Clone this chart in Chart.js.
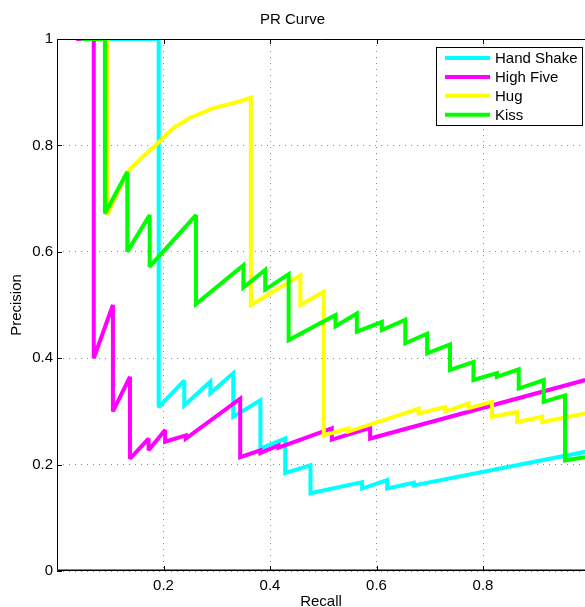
<!DOCTYPE html>
<html>
<head>
<meta charset="utf-8">
<title>PR Curve</title>
<script src="https://cdn.jsdelivr.net/npm/chart.js@4.4.1/dist/chart.umd.min.js"></script>
<style>
  html, body { margin: 0; padding: 0; background: #fff; }
  #wrap { width: 585px; height: 607px; }
</style>
</head>
<body>
<div id="wrap"><canvas id="pr"></canvas></div>
<script>
// tick labels
const recallTicks = [0.2, 0.4, 0.6, 0.8];
const precisionTicks = [0, 0.2, 0.4, 0.6, 0.8, 1];

// series names + colours
const seriesNames = ['Hand Shake', 'High Five', 'Hug', 'Kiss'];
const seriesColors = ['#00ffff', '#ff00ff', '#ffff00', '#00ff00'];

// Hand Shake
const handShakeRecall = [0.045, 0.191, 0.191, 0.239, 0.239, 0.288, 0.288, 0.331, 0.331, 0.382, 0.382, 0.4285, 0.4285, 0.476, 0.476, 0.573, 0.573, 0.620, 0.620, 0.670, 0.670, 0.992];
const handShakePrecision = [1, 1, 0.308, 0.358, 0.311, 0.356, 0.334, 0.372, 0.290, 0.321, 0.230, 0.249, 0.184, 0.199, 0.146, 0.167, 0.155, 0.171, 0.155, 0.166, 0.161, 0.224];

// High Five
const highFiveRecall = [0.036, 0.069, 0.069, 0.105, 0.105, 0.137, 0.137, 0.172, 0.172, 0.203, 0.203, 0.242, 0.242, 0.344, 0.344, 0.382, 0.382, 0.416, 0.416, 0.516, 0.516, 0.588, 0.588, 0.992];
const highFivePrecision = [1, 1, 0.40, 0.50, 0.30, 0.365, 0.211, 0.249, 0.227, 0.265, 0.243, 0.255, 0.249, 0.324, 0.214, 0.227, 0.222, 0.236, 0.232, 0.268, 0.247, 0.269, 0.249, 0.359];

// Hug
const hugRecall = [0.045, 0.094, 0.094, 0.132, 0.156, 0.191, 0.219, 0.250, 0.294, 0.344, 0.364, 0.364, 0.457, 0.457, 0.501, 0.501, 0.547, 0.547, 0.679, 0.679, 0.729, 0.729, 0.773, 0.773, 0.817, 0.817, 0.864, 0.864, 0.911, 0.911, 0.992];
const hugPrecision = [1, 1, 0.669, 0.750, 0.774, 0.806, 0.833, 0.852, 0.870, 0.883, 0.890, 0.500, 0.556, 0.500, 0.525, 0.255, 0.268, 0.262, 0.305, 0.296, 0.308, 0.300, 0.315, 0.306, 0.318, 0.290, 0.299, 0.280, 0.290, 0.280, 0.296];

// Kiss
const kissRecall = [0.045, 0.090, 0.090, 0.132, 0.132, 0.174, 0.174, 0.261, 0.261, 0.350, 0.350, 0.391, 0.391, 0.435, 0.435, 0.523, 0.523, 0.563, 0.563, 0.610, 0.610, 0.654, 0.654, 0.695, 0.695, 0.738, 0.738, 0.782, 0.782, 0.826, 0.826, 0.867, 0.867, 0.914, 0.914, 0.954, 0.954, 0.992];
const kissPrecision = [1, 1, 0.672, 0.750, 0.600, 0.669, 0.572, 0.669, 0.502, 0.575, 0.533, 0.566, 0.529, 0.558, 0.434, 0.481, 0.460, 0.484, 0.450, 0.468, 0.453, 0.472, 0.428, 0.446, 0.409, 0.426, 0.378, 0.393, 0.359, 0.372, 0.365, 0.379, 0.343, 0.359, 0.318, 0.330, 0.208, 0.214];

const recalls = [handShakeRecall, highFiveRecall, hugRecall, kissRecall];
const precisions = [handShakePrecision, highFivePrecision, hugPrecision, kissPrecision];

const FONT = '"Liberation Sans", Arial, Helvetica, sans-serif';

function toPoints(xs, ys) {
  return xs.map((x, i) => ({ x: x, y: ys[i] }));
}

const datasets = seriesNames.map((name, i) => ({
  label: name,
  data: toPoints(recalls[i], precisions[i]),
  borderColor: seriesColors[i],
  backgroundColor: seriesColors[i],
  borderWidth: 4,
  pointRadius: 0,
  tension: 0,
  fill: false,
  borderJoinStyle: 'miter',
  order: seriesNames.length - i  // later series on top, like matlab
}));

function fmt(v) {
  return String(+Number(v).toFixed(1));
}

// keep the sharp corners from growing long spikes
const joinLimit = {
  id: 'joinLimit',
  beforeDatasetsDraw(chart) { chart.ctx.miterLimit = 2.5; }
};

// box, inward ticks and the legend inside the axes
const axesDecor = {
  id: 'axesDecor',
  afterDraw(chart) {
    const ctx = chart.ctx;
    const a = chart.chartArea;
    const xs = chart.scales.x, ys = chart.scales.y;
    ctx.save();
    ctx.strokeStyle = '#000';
    ctx.lineWidth = 1;
    ctx.beginPath();
    ctx.rect(a.left + 0.5, a.top + 0.5, a.right - a.left, a.bottom - a.top - 1);
    ctx.stroke();
    ctx.beginPath();
    ctx.moveTo(a.left, a.bottom - 1); ctx.lineTo(a.right, a.bottom - 1);
    ctx.stroke();

    ctx.beginPath();
    recallTicks.forEach(v => {
      const px = Math.round(xs.getPixelForValue(v)) + 0.5;
      ctx.moveTo(px, a.bottom); ctx.lineTo(px, a.bottom - 5);
      ctx.moveTo(px, a.top); ctx.lineTo(px, a.top + 5);
    });
    precisionTicks.forEach(v => {
      const py = Math.round(ys.getPixelForValue(v)) + 0.5;
      ctx.moveTo(a.left, py); ctx.lineTo(a.left + 5, py);
    });
    ctx.stroke();

    // legend
    const lx = 436, ly = 47, lw = 146, lh = 78;
    ctx.fillStyle = '#fff';
    ctx.fillRect(lx, ly, lw, lh);
    ctx.strokeRect(lx + 0.5, ly + 0.5, lw, lh);
    ctx.font = '15px ' + FONT;
    ctx.textBaseline = 'middle';
    ctx.textAlign = 'left';
    chart.data.datasets.forEach((ds, i) => {
      const y = ly + 11 + i * 18.9;
      ctx.strokeStyle = ds.borderColor;
      ctx.lineWidth = 4;
      ctx.beginPath();
      ctx.moveTo(445, y); ctx.lineTo(490, y);
      ctx.stroke();
      ctx.fillStyle = '#000';
      ctx.fillText(ds.label, 495, y + 1);
    });
    ctx.restore();
  }
};

const gridOpts = { color: '#8c8c8c', lineWidth: 1, drawTicks: false };

new Chart(document.getElementById('pr'), {
  type: 'line',
  data: { datasets: datasets },
  options: {
    responsive: true,
    maintainAspectRatio: false,
    animation: false,
    devicePixelRatio: 1,
    layout: { padding: 0 },
    plugins: {
      legend: { display: false },
      tooltip: { enabled: false },
      title: {
        display: true,
        text: 'PR Curve',
        color: '#000',
        font: { family: FONT, size: 15, weight: 'normal' },
        padding: { top: 11, bottom: 10 }
      }
    },
    scales: {
      x: {
        type: 'linear',
        min: 0,
        max: 0.9915,
        afterFit: s => { s.height = 36; },
        afterBuildTicks: s => { s.ticks = recallTicks.map(v => ({ value: v })); },
        ticks: {
          callback: fmt,
          color: '#000',
          font: { family: FONT, size: 15 },
          padding: 6,
          maxRotation: 0,
          autoSkip: false
        },
        grid: gridOpts,
        border: { display: false, dash: [1, 5] },
        title: {
          display: true,
          text: 'Recall',
          color: '#000',
          font: { family: FONT, size: 15 },
          padding: { top: 0, bottom: -4 }
        }
      },
      y: {
        type: 'linear',
        min: 0,
        max: 1,
        afterFit: s => { s.width = 57; },
        afterBuildTicks: s => { s.ticks = precisionTicks.map(v => ({ value: v })); },
        ticks: {
          callback: fmt,
          color: '#000',
          font: { family: FONT, size: 15 },
          padding: 4,
          autoSkip: false
        },
        grid: gridOpts,
        border: { display: false, dash: [1, 5] },
        title: {
          display: true,
          text: 'Precision',
          color: '#000',
          font: { family: FONT, size: 15 },
          padding: { top: 8, bottom: 0 }
        }
      }
    }
  },
  plugins: [joinLimit, axesDecor]
});
</script>
</body>
</html>
